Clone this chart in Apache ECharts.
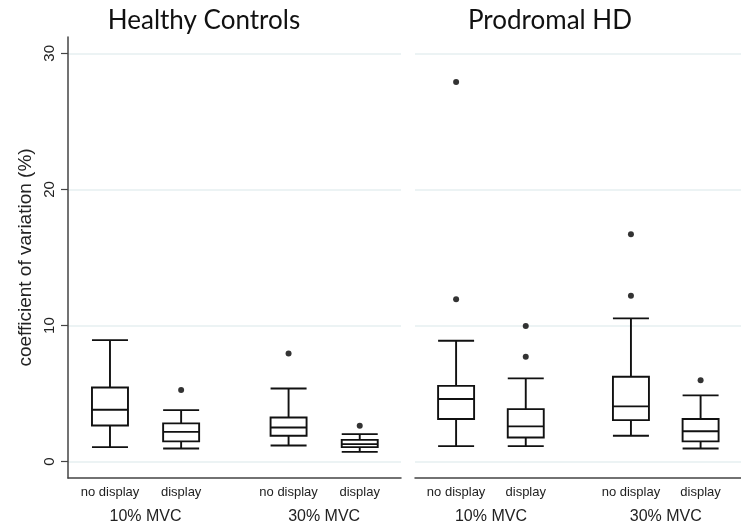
<!DOCTYPE html>
<html>
<head>
<meta charset="utf-8">
<script src="https://cdn.jsdelivr.net/npm/echarts@6/dist/echarts.min.js"></script>
<style>
  html, body { margin: 0; padding: 0; background: #fff; }
  #grafica { width: 741px; height: 525px; }
</style>
</head>
<body>
<div id="grafica"></div>
<script>
// datos
var paneles = ['Healthy Controls', 'Prodromal HD'];
var etiquetasCaja = ['no display', 'display', 'no display', 'display'];
var grupos = ['10% MVC', '30% MVC'];
var posCaja = [0.59, 1.59, 3.1, 4.1];
var posGrupo = [1.09, 3.6];
var ticksY = [0, 10, 20, 30];

// [min, Q1, mediana, Q3, max]
var cajasControles = [
    [1.07, 2.66, 3.81, 5.45, 8.93],
    [0.97, 1.49, 2.19, 2.81, 3.79],
    [1.19, 1.90, 2.51, 3.25, 5.38],
    [0.72, 1.07, 1.29, 1.60, 2.02]
];
var cajasProdromal = [
    [1.14, 3.13, 4.60, 5.57, 8.88],
    [1.14, 1.78, 2.59, 3.86, 6.12],
    [1.90, 3.05, 4.06, 6.24, 10.53],
    [0.97, 1.49, 2.24, 3.13, 4.87]
];
// atipicos: [indice caja, valor]
var atipicosControles = [[1, 5.26], [2, 7.95], [3, 2.63]];
var atipicosProdromal = [[0, 27.9], [0, 11.93], [1, 9.96], [1, 7.71], [2, 16.7], [2, 12.19], [3, 5.99]];

var fuente = 'Liberation Sans';
var colorLinea = '#222';

function datosCaja(cajas) {
    return cajas.map(function (c, i) {
        return [posCaja[i]].concat(c);
    });
}

function datosAtipicos(lista) {
    return lista.map(function (a) {
        return [posCaja[a[0]], a[1]];
    });
}

function etiquetaCaja(valor) {
    for (var i = 0; i < posCaja.length; i++) {
        if (Math.abs(posCaja[i] - valor) < 0.01) return etiquetasCaja[i];
    }
    return '';
}

function etiquetaGrupo(valor) {
    for (var i = 0; i < posGrupo.length; i++) {
        if (Math.abs(posGrupo[i] - valor) < 0.01) return grupos[i];
    }
    return '';
}

function ejeX(grid, conLinea, valores, formato, margen, tam) {
    return {
        type: 'value',
        gridIndex: grid,
        min: 0,
        max: 4.68,
        position: 'bottom',
        axisLine: { show: conLinea, onZero: false, lineStyle: { color: '#444', width: 1.5 } },
        axisTick: { show: false },
        splitLine: { show: false },
        axisLabel: {
            customValues: valores,
            formatter: formato,
            margin: margen,
            fontFamily: fuente,
            fontSize: tam,
            color: colorLinea
        }
    };
}

function ejeY(grid, visible) {
    return {
        type: 'value',
        gridIndex: grid,
        min: -1.2,
        max: 31.2,
        name: visible ? 'coefficient of variation (%)' : '',
        nameLocation: 'middle',
        nameRotate: 90,
        nameGap: 33,
        nameTextStyle: { fontFamily: fuente, fontSize: 19, color: colorLinea },
        axisLine: { show: visible, lineStyle: { color: '#444', width: 1.5 } },
        axisTick: { show: visible, customValues: ticksY, length: 7, lineStyle: { color: '#444', width: 1.2 } },
        axisLabel: {
            show: visible,
            customValues: ticksY,
            rotate: 90,
            margin: 11,
            fontFamily: fuente,
            fontSize: 15,
            color: colorLinea
        },
        splitLine: { show: true, lineStyle: { color: '#e6eff0', width: 1.5 } }
    };
}

function serieCaja(indice, cajas) {
    return {
        type: 'boxplot',
        xAxisIndex: indice,
        yAxisIndex: indice,
        boxWidth: [36, 36],
        itemStyle: { color: '#fff', borderColor: '#111', borderWidth: 1.9 },
        emphasis: { disabled: true },
        data: datosCaja(cajas)
    };
}

function serieAtipicos(indice, lista) {
    return {
        type: 'scatter',
        xAxisIndex: indice,
        yAxisIndex: indice,
        symbolSize: 6,
        itemStyle: { color: '#000' },
        data: datosAtipicos(lista)
    };
}

var grafico = echarts.init(document.getElementById('grafica'));

var option = {
    animation: false,
    backgroundColor: '#fff',
    title: [
        { text: paneles[0], left: 199, top: 3, textAlign: 'center',
          textStyle: { fontFamily: 'Lato', fontWeight: 'normal', fontSize: 26, color: '#111' } },
        { text: paneles[1], left: 545, top: 3, textAlign: 'center',
          textStyle: { fontFamily: 'Lato', fontWeight: 'normal', fontSize: 26, color: '#111' } }
    ],
    grid: [
        { left: 68, top: 37, width: 333, height: 441 },
        { left: 415, top: 37, width: 332, height: 441 }
    ],
    xAxis: [
        ejeX(0, true, posCaja, etiquetaCaja, 8, 13),
        ejeX(1, true, posCaja, etiquetaCaja, 8, 13),
        ejeX(0, false, posGrupo, etiquetaGrupo, 31, 16),
        ejeX(1, false, posGrupo, etiquetaGrupo, 31, 16)
    ],
    yAxis: [ejeY(0, true), ejeY(1, false)],
    series: [
        serieCaja(0, cajasControles),
        serieCaja(1, cajasProdromal),
        serieAtipicos(0, atipicosControles),
        serieAtipicos(1, atipicosProdromal)
    ]
};

grafico.setOption(option);
</script>
</body>
</html>
